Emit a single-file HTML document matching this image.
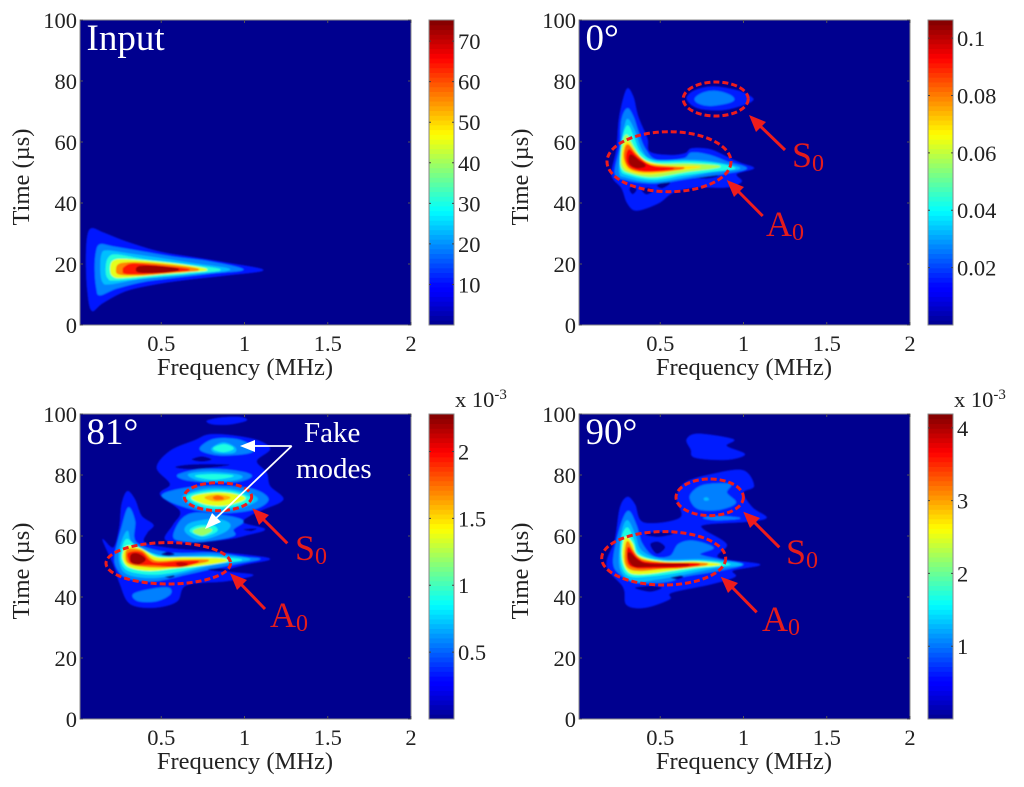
<!DOCTYPE html>
<html>
<head>
<meta charset="utf-8">
<title>Time-frequency panels</title>
<style>
html,body{margin:0;padding:0;background:#fff;width:1024px;height:787px;overflow:hidden}
svg{display:block;filter:blur(0.35px)}
text{font-family:"Liberation Serif",serif}
</style>
</head>
<body>
<svg id="figure" xmlns="http://www.w3.org/2000/svg" width="1024" height="787" viewBox="0 0 1024 787">
<defs>
<filter id="soft" x="-5%" y="-5%" width="110%" height="110%"><feGaussianBlur stdDeviation="0.7"/></filter>
</defs>
<g id="panels"></g>
<g id="annotations" font-size="36" fill="#e41c1c">
  <g>
    <ellipse cx="715.7" cy="99" rx="32.5" ry="17" fill="none" stroke="#ee1c1c" stroke-width="3" stroke-dasharray="6 3"/>
    <ellipse cx="669" cy="161.7" rx="62" ry="30" fill="none" stroke="#ee1c1c" stroke-width="3" stroke-dasharray="6 3"/>
    <path d="M785,150 L755,121" stroke="#ee1c1c" stroke-width="3"/><path d="M749,115 L766,122 L756,132 Z" fill="#ee1c1c"/>
    <path d="M762.7,216 L733,186" stroke="#ee1c1c" stroke-width="3"/><path d="M726.7,180 L744,187 L734,197 Z" fill="#ee1c1c"/>
    <text x="792" y="167">S<tspan font-size="24" dy="4">0</tspan></text>
    <text x="766" y="236">A<tspan font-size="24" dy="4">0</tspan></text>
  </g>
  <g>
    <ellipse cx="218" cy="496.7" rx="33.7" ry="14" fill="none" stroke="#ee1c1c" stroke-width="3" stroke-dasharray="6 3"/>
    <ellipse cx="168.3" cy="563.3" rx="62.3" ry="20.7" fill="none" stroke="#ee1c1c" stroke-width="3" stroke-dasharray="6 3"/>
    <path d="M287.3,543.3 L258,514" stroke="#ee1c1c" stroke-width="3"/><path d="M252.3,508.3 L269,515 L259,525 Z" fill="#ee1c1c"/>
    <path d="M265,609 L236,579" stroke="#ee1c1c" stroke-width="3"/><path d="M230,573.3 L247,580 L237,590 Z" fill="#ee1c1c"/>
    <text x="295" y="560">S<tspan font-size="24" dy="4">0</tspan></text>
    <text x="270" y="627">A<tspan font-size="24" dy="4">0</tspan></text>
    <path d="M291.7,446 L250,446" stroke="#fff" stroke-width="1.8"/><path d="M240,446 L255,440 L255,452 Z" fill="#fff"/>
    <path d="M291.7,446 L212,522" stroke="#fff" stroke-width="1.8"/><path d="M205,529 L212,513 L221,522 Z" fill="#fff"/>
    <text x="304" y="442" font-size="29" fill="#fff">Fake</text>
    <text x="296" y="478" font-size="29" fill="#fff">modes</text>
  </g>
  <g>
    <ellipse cx="709.7" cy="497.3" rx="33.7" ry="18.3" fill="none" stroke="#ee1c1c" stroke-width="3" stroke-dasharray="6 3"/>
    <ellipse cx="663.7" cy="558.3" rx="62" ry="26.7" fill="none" stroke="#ee1c1c" stroke-width="3" stroke-dasharray="6 3"/>
    <path d="M779.3,547.3 L749,517" stroke="#ee1c1c" stroke-width="3"/><path d="M743.3,511.7 L760,518 L750,528 Z" fill="#ee1c1c"/>
    <path d="M756.7,612.3 L727,582" stroke="#ee1c1c" stroke-width="3"/><path d="M720.7,576.7 L738,583 L728,593 Z" fill="#ee1c1c"/>
    <text x="786" y="564">S<tspan font-size="24" dy="4">0</tspan></text>
    <text x="762" y="631">A<tspan font-size="24" dy="4">0</tspan></text>
  </g>
</g>
</svg>
<script>
// Shared axis data
const xTickValues = [0.5, 1, 1.5, 2];
const xTickLabels = ['0.5', '1', '1.5', '2'];
const yTickValues = [0, 20, 40, 60, 80, 100];
const yTickLabels = ['0', '20', '40', '60', '80', '100'];

// Colorbar data
const inputBarTicks = [10, 20, 30, 40, 50, 60, 70];
const inputBarLabels = ['10', '20', '30', '40', '50', '60', '70'];
const deg0BarTicks = [0.02, 0.04, 0.06, 0.08, 0.1];
const deg0BarLabels = ['0.02', '0.04', '0.06', '0.08', '0.1'];
const deg81BarTicks = [0.5, 1, 1.5, 2];
const deg81BarLabels = ['0.5', '1', '1.5', '2'];
const deg90BarTicks = [1, 2, 3, 4];
const deg90BarLabels = ['1', '2', '3', '4'];

// Filled contours: [level, [freq, time, freq, time, ...]], painted in order.
const inputContours = [
[11,[1.113,18,.893,20.4,.693,22.2,.493,24,.292,27.3,.152,30.3,.082,31.7,.056,29,.048,21.3,.056,11.5,.082,4.7,.152,7.3,.292,11.2,.493,13.6,.693,15.1,.893,16.3]],
[19,[.993,18.2,.793,20.8,.593,22.2,.393,24,.212,25.7,.132,26.4,.108,23.5,.102,18,.112,12,.132,9.8,.232,12,.393,14.2,.593,15.6,.793,16.9]],
[23.5,[.913,18.2,.693,20.2,.493,21.9,.292,23.5,.172,24.4,.142,23,.136,18,.148,14.2,.192,13.4,.393,15.3,.693,16.7]],
[31,[.853,18.2,.593,20.2,.393,21.5,.232,23,.182,21.9,.168,18,.182,15.3,.232,14.7,.493,16,.693,17]],
[45,[.773,18.2,.593,19.9,.393,21,.262,21.5,.208,20.8,.196,18,.212,16,.272,15.6,.493,16.7,.653,17.4]],
[56,[.723,18.2,.533,19.7,.352,20.4,.252,20,.232,18.2,.252,16.7,.393,16.5,.593,17.4]],
[64,[.663,18.2,.493,19.3,.332,20,.282,19,.272,18,.292,16.9,.453,17,.593,17.6]],
[73,[.603,18.2,.473,19.1,.372,19.1,.352,18.2,.372,17.4,.493,17.4]]
];
const deg0Contours = [
[.016,[.298,77.3,.338,74.9,.368,68.3,.422,61.2,.438,56.8,.559,55.7,.649,56.3,.689,57.9,.799,57.6,.899,55.2,.979,53.2,1.063,51.4,.959,49.5,.989,47,.899,45.1,.719,45.1,.579,43.4,.489,39.9,.358,37.5,.302,39.9,.268,44.8,.208,49.2,.238,57.9,.254,68.3]],
[0,[.314,44.5,.338,45.6,.358,44.3,.334,42.9]],
[0,[.388,44.3,.428,45,.458,44,.418,42.8]],
[0,[.482,45.9,.549,47.3,.555,46.2,.509,44.8]],
[0,[.695,48.6,.779,49.5,.849,48.9,.779,48]],
[.0265,[.302,71,.338,68.3,.368,63.4,.408,57.9,.478,54.1,.639,54.6,.689,56.5,.799,55.7,.899,53.6,1.019,51.4,.899,49.7,.679,48.1,.559,47,.44,46.5,.298,47.5,.228,49.7,.258,58.5,.268,67.2]],
[.033,[.308,67.4,.348,63.4,.388,57.4,.458,54.1,.659,54.1,.799,53.6,.979,51.4,.799,50,.639,48.4,.458,47,.298,48.4,.254,50.3,.268,59.6,.288,65.6]],
[.043,[.302,65.3,.338,61.8,.378,56.8,.468,53.6,.659,53.6,.819,53,.949,51.4,.819,50.5,.639,49.2,.458,47.8,.308,49.2,.262,51.4,.268,59.6]],
[.058,[.298,62.3,.338,58.5,.398,54.1,.498,52.8,.679,52.8,.859,51.9,.659,50.3,.458,48.6,.328,49.7,.268,51.9,.272,58.5]],
[.069,[.302,60.1,.348,56.8,.418,53.6,.539,52.1,.739,51.9,.579,50.6,.44,49.5,.328,50.3,.278,52.5,.278,57.4]],
[.083,[.308,59,.358,55.7,.438,52.5,.579,51.7,.639,51.4,.519,50.5,.398,50.3,.318,51.4,.288,54.1,.288,57.4]],
[.093,[.314,57.4,.368,54.6,.458,51.9,.579,51.3,.458,50.6,.378,50.8,.318,52.1,.298,54.6]],
[.103,[.322,55.7,.368,53.9,.408,52.2,.358,51.7,.318,53]],
[.016,[.659,74.6,.709,77,.819,78.2,.959,77,1.029,75.4,1.059,73.8,.999,72.1,.879,70.5,.759,70.7,.689,72.1]],
[.0265,[.709,74.3,.759,76.2,.839,76.7,.919,75.4,.943,73.8,.899,72.7,.799,71.9,.729,72.7]]
];
const deg81Contours = [
[.34,[.296,74.7,.342,72,.382,66.6,.453,63.6,.416,61.1,.402,57.8,.553,56,.753,55.1,1.013,53.8,1.153,52.4,.993,50.5,.893,48.5,1.053,47.2,.893,45.2,.653,43.9,.593,38.5,.453,36.5,.312,37.8,.252,44.2,.212,50.7,.148,58.9,.212,56.2,.248,62.7,.262,70.4]],
[.34,[.773,97.7,.853,98.8,.973,99,1.013,97.9,.913,96.6,.813,96.6]],
[.34,[.703,91.4,.793,93.3,.953,92.8,1.093,91.1,1.153,88.4,1.073,84.6,1.133,80.8,1.153,76.4,1.233,72,1.113,68.7,1.043,67,.993,64.4,1.123,62.2,1.013,60.3,.893,58.9,.653,57.8,.523,58.9,.573,63.8,.613,68.2,.493,73.6,.553,77,.473,82.4,.553,87.9]],
[0,[.683,85.1,.743,86.1,.803,85.1,.743,84.4]],
[0,[.583,82.6,.693,83.5,.913,83.3,.693,81.9]],
[0,[.993,62.2,1.073,62.5,1.04,61.6]],
[.57,[.302,69.3,.342,64.9,.352,57.8,.553,54.5,.813,54.5,.993,53.1,1.093,52.4,.953,50.9,.813,49.4,.653,47.4,.453,45.2,.292,46.3,.232,49.6,.222,54,.262,62.7]],
[.57,[.332,40.9,.433,42.5,.543,43,.553,40.9,.473,38.7,.362,38.7]],
[.57,[.733,88.4,.813,91.7,.953,91.7,1.043,89.5,1.033,87.3,.853,86.5]],
[.57,[.603,80.2,.753,81.9,.953,81.3,1.043,79.7,.953,77.8,.753,77.8,.633,78.6]],
[.57,[.503,73.1,.633,75.6,.853,76.4,1.053,75.3,1.143,72,1.053,68.7,.853,67.6,.653,69.3]],
[.57,[.573,60,.623,65.5,.713,67.6,.893,66.6,.993,64.9,.933,62.2,.933,60,.753,58.1,.623,58.4]],
[0,[.5,54,.54,54.8,.58,54,.54,53.4]],
[0,[.52,46.8,.55,47.6,.58,46.8,.55,46.2]],
[0,[.78,49,.85,49.4,.91,48.8,.85,48.4]],
[.71,[.296,61.6,.332,57.3,.513,53.4,.793,53.7,1.033,52.4,.813,50.5,.633,48,.453,46.3,.302,47.4,.252,50.7,.252,56.2]],
[.71,[.803,88.7,.873,90.6,.943,89,.933,87.3,.833,87.3]],
[.71,[.663,80.2,.793,81,.953,80.2,.983,79.1,.893,78,.733,78.2]],
[.71,[.633,73.1,.753,75.3,.913,75.3,1.043,73.6,1.073,71.5,.953,69,.793,68.4,.673,70.4]],
[.71,[.643,61.6,.683,64.4,.833,65.5,.913,63.8,.873,61.1,.733,58.9]],
[.92,[.292,58.9,.352,56.7,.513,53.1,.813,53.1,.983,52.1,.793,50.9,.613,48.5,.453,47.4,.312,48.5,.262,51.2,.262,55.1]],
[.92,[.813,88.7,.877,90,.933,88.7,.873,87.6]],
[.92,[.703,79.7,.813,80.2,.933,79.7,.813,78.6]],
[.92,[.653,72.8,.773,74.7,.913,74.7,1.013,73.1,1.043,71.5,.913,69.5,.773,69.3]],
[.92,[.673,61.6,.723,63.3,.813,63.3,.833,61.6,.753,60]],
[1.2,[.693,61.6,.753,62.7,.803,61.9,.743,60.3]],
[1.37,[.683,72.6,.793,74,.913,73.9,1.003,72.3,.893,70.2,.773,70.4]],
[1.6,[.763,72.6,.833,73.4,.913,72.6,.833,71.5]],
[1.78,[.813,72.6,.843,73.1,.873,72.3,.833,72]],
[1.37,[.302,56.7,.382,55.6,.473,52.9,.633,52.9,.833,52.7,.893,51.8,.753,50.5,.593,49.6,.433,48.7,.312,49.8,.272,52.3,.276,55.1]],
[1.71,[.302,55.6,.382,55.1,.462,51.8,.613,52,.783,52,.653,50.5,.513,49.8,.372,50.2,.302,51.2,.288,53.4]],
[1.94,[.308,54.5,.382,54.5,.453,51.2,.613,51.6,.723,51.6,.613,50,.473,50.5,.332,51,.302,52.9]],
[2.21,[.322,53.8,.362,54,.402,52.3,.362,50.9,.322,51.6]],
[2.12,[.593,50.9,.623,51.2,.657,50.7,.623,50.2]]
];
const deg90Contours = [
[.63,[.302,72.8,.348,70.4,.402,64.4,.619,66,.599,72.6,.649,77.5,.819,80.4,.999,81.5,1.063,76.4,.999,74.2,1.055,69.3,1.139,66,1.019,64.7,.779,63.8,.759,62.2,.899,57.3,.849,52.9,1.099,50.7,.939,48.7,.949,46.6,.799,44.1,.569,41.4,.555,39.2,.408,36.5,.298,37.4,.278,43.1,.178,50.2,.228,58.9,.258,69.3]],
[.63,[.659,91.7,.729,93.5,.939,91.7,.899,89.5,1.009,86.8,.899,85,.709,85.7,.683,88.4]],
[0,[.44,57.3,.489,58.1,.529,56.2,.479,54.2]],
[0,[.408,60.5,.479,61.4,.579,60.8,.489,59.7]],
[0,[.348,43,.439,43.6,.509,43,.439,41.7]],
[1.05,[.308,68.2,.358,63.3,.388,57.8,.458,53.4,.559,53.4,.609,57.3,.699,58.4,.819,56.2,.739,54,.859,52.3,.999,50.7,.859,48.7,.659,46.9,.539,45,.358,44.7,.258,47.4,.218,51.8,.258,62.7]],
[1.05,[.683,73.7,.759,76.7,.919,77,.899,74.2,.953,70.9,.859,68.7,.739,68.7,.689,70.9]],
[1.05,[.759,66,.859,66.5,.979,65.8,.839,65.2]],
[0,[.559,46.6,.599,47.4,.639,46.6,.599,45.8]],
[1.3,[.763,72.3,.779,72.6,.791,71.9,.769,71.7]],
[1.3,[.302,65.1,.348,60.5,.388,55.1,.519,52.3,.759,52.3,.989,50.7,.819,49.4,.639,47.4,.479,45.8,.338,45.2,.258,49.6,.268,60.5]],
[1.7,[.302,62.7,.338,58.9,.378,54,.519,51.8,.759,51.8,.919,50.7,.759,49.6,.599,48,.439,46.9,.318,46.9,.268,50.7,.268,58.9]],
[2.51,[.298,59.7,.334,57.3,.368,53.4,.519,51.5,.719,51.5,.859,50.6,.699,49.8,.559,48.7,.418,47.6,.318,48,.278,51.8,.278,57.3]],
[3.14,[.302,58.1,.338,55,.388,52.3,.519,51.2,.779,50.9,.659,49.8,.519,49.4,.378,48.7,.308,49.6,.288,52.9]],
[3.69,[.308,56.2,.358,52.9,.439,51.2,.729,50.9,.619,49.8,.459,49.6,.358,49.6,.308,51.2]],
[4.06,[.314,54.5,.368,51.8,.439,50.7,.669,50.6,.459,50.2,.348,50.2,.314,52.3]]
];

const FREQ_MIN = 0.012, FREQ_MAX = 2, TIME_MIN = 0, TIME_MAX = 100;
const PLOT_W = 331, PLOT_H = 305, BAR_W = 25, BAR_GAP = 18;
const SVG_NS = 'http://www.w3.org/2000/svg';
const panelRoot = document.getElementById('panels');

const panels = [
  {id:'input', title:'Input', left:80, top:20, max:75.2, contours:inputContours, ticks:inputBarTicks, labels:inputBarLabels},
  {id:'0deg', title:'0°', left:579, top:20, max:0.1063, contours:deg0Contours, ticks:deg0BarTicks, labels:deg0BarLabels},
  {id:'81deg', title:'81°', left:80, top:414, max:2.28, contours:deg81Contours, ticks:deg81BarTicks, labels:deg81BarLabels, exponent:true},
  {id:'90deg', title:'90°', left:579, top:414, max:4.19, contours:deg90Contours, ticks:deg90BarTicks, labels:deg90BarLabels, exponent:true}
];

function jet(v) {
  const c = x => Math.max(0, Math.min(1, x));
  const r = c(Math.min(4 * v - 1.5, -4 * v + 4.5));
  const g = c(Math.min(4 * v - 0.5, -4 * v + 3.5));
  const b = c(Math.min(4 * v + 0.56, -4 * v + 2.5));
  return 'rgb(' + Math.round(r * 255) + ',' + Math.round(g * 255) + ',' + Math.round(b * 255) + ')';
}
function make(tag, attrs, parent) {
  const el = document.createElementNS(SVG_NS, tag);
  for (const k in attrs) el.setAttribute(k, attrs[k]);
  parent.appendChild(el);
  return el;
}
function smoothClosedPath(points) {
  const n = points.length;
  let d = 'M' + points[0][0].toFixed(1) + ',' + points[0][1].toFixed(1);
  for (let i = 0; i < n; i++) {
    const p0 = points[(i - 1 + n) % n], p1 = points[i], p2 = points[(i + 1) % n], p3 = points[(i + 2) % n];
    const c1x = p1[0] + (p2[0] - p0[0]) / 6, c1y = p1[1] + (p2[1] - p0[1]) / 6;
    const c2x = p2[0] - (p3[0] - p1[0]) / 6, c2y = p2[1] - (p3[1] - p1[1]) / 6;
    d += 'C' + c1x.toFixed(1) + ',' + c1y.toFixed(1) + ' ' + c2x.toFixed(1) + ',' + c2y.toFixed(1) + ' ' + p2[0].toFixed(1) + ',' + p2[1].toFixed(1);
  }
  return d + 'Z';
}

panels.forEach(function (p) {
  const xOf = f => p.left + (f - FREQ_MIN) / (FREQ_MAX - FREQ_MIN) * PLOT_W;
  const yOf = t => p.top + PLOT_H - (t - TIME_MIN) / (TIME_MAX - TIME_MIN) * PLOT_H;
  const g = make('g', {}, panelRoot);
  
  

  const clipId = 'clip-' + p.id;
  const clip = make('clipPath', {id: clipId}, g);
  make('rect', {x: p.left, y: p.top, width: PLOT_W, height: PLOT_H}, clip);

  const bg = make('rect', {x: p.left, y: p.top, width: PLOT_W, height: PLOT_H, fill: '#00008f'}, g);
  
  

  const heat = make('g', {'clip-path': 'url(#' + clipId + ')'}, g);
  
  
  const soft = make('g', {filter: 'url(#soft)'}, heat);
  p.contours.forEach(function (c) {
    const pts = [];
    for (let i = 0; i < c[1].length; i += 2) pts.push([xOf(c[1][i]), yOf(c[1][i + 1])]);
    const frac = c[0] / p.max;
    const col = c[0] === 0 ? '#00008f' : jet(frac);
    const band = make('path', {d: smoothClosedPath(pts), fill: col, stroke: col, 'stroke-linejoin': 'round', 'stroke-width': c[0] === 0 ? 0 : 0.2 + 1.5 * frac}, soft);
    
    
  });

  const frame = make('rect', {x: p.left, y: p.top, width: PLOT_W, height: PLOT_H, fill: 'none', stroke: '#8a8a8a', 'stroke-width': 1}, g);
  
  

  xTickValues.forEach(function (v, i) {
    const x = xOf(v);
    const tb = make('path', {d: 'M' + x + ',' + (p.top + PLOT_H) + 'v-3M' + x + ',' + p.top + 'v3', stroke: '#555', 'stroke-width': 1}, g);
    
    
    const lab = make('text', {x: x, y: p.top + PLOT_H + 26, 'font-size': 22.5, 'text-anchor': 'middle', fill: '#222'}, g);
    lab.textContent = xTickLabels[i];
    
    
  });
  yTickValues.forEach(function (v, i) {
    const y = yOf(v);
    const tk = make('path', {d: 'M' + p.left + ',' + y + 'h3M' + (p.left + PLOT_W) + ',' + y + 'h-3', stroke: '#555', 'stroke-width': 1}, g);
    
    
    const lab = make('text', {x: p.left - 3, y: y + 8, 'font-size': 22.5, 'text-anchor': 'end', fill: '#222'}, g);
    lab.textContent = yTickLabels[i];
    
    
  });

  const xt = make('text', {x: p.left + 165, y: p.top + PLOT_H + 50, 'font-size': 24.5, 'text-anchor': 'middle', fill: '#222'}, g);
  xt.textContent = 'Frequency (MHz)';
  
  

  const yx = p.left - 51, yy = p.top + 157;
  const yt = make('text', {x: yx, y: yy, 'font-size': 24.5, 'text-anchor': 'middle', fill: '#222', transform: 'rotate(-90 ' + yx + ' ' + yy + ')'}, g);
  yt.textContent = 'Time (µs)';
  
  

  const title = make('text', {x: p.left + 6.5, y: p.top + 30, 'font-size': 37, fill: '#fff'}, g);
  title.textContent = p.title;
  
  

  // colorbar
  const barX = p.left + PLOT_W + BAR_GAP;
  const barY = v => p.top + PLOT_H - v / p.max * PLOT_H;
  const bar = make('g', {}, g);
  
  
  const steps = 64;
  for (let i = 0; i < steps; i++) {
    const lo = p.max * i / steps, hi = p.max * (i + 1) / steps;
    const s = make('rect', {x: barX, y: barY(hi), width: BAR_W, height: barY(lo) - barY(hi) + 0.5, fill: jet((i + 0.5) / steps)}, bar);
    
    
  }
  const barFrame = make('rect', {x: barX, y: p.top, width: BAR_W, height: PLOT_H, fill: 'none', stroke: '#8a8a8a', 'stroke-width': 1}, bar);
  
  
  p.ticks.forEach(function (v, i) {
    const y = barY(v);
    const tk = make('path', {d: 'M' + barX + ',' + y + 'h2M' + (barX + BAR_W) + ',' + y + 'h-2', stroke: '#444', 'stroke-width': 1}, bar);
    
    
    const lab = make('text', {x: barX + BAR_W + 4, y: y + 8, 'font-size': 22.5, fill: '#222'}, bar);
    lab.textContent = p.labels[i];
    
    
  });
  if (p.exponent) {
    const ex = make('text', {x: barX + BAR_W + 1, y: p.top - 7, 'font-size': 22.5, fill: '#222'}, bar);
    ex.textContent = 'x 10';
    
    
    const sup = make('tspan', {'font-size': 15, dy: -8}, ex);
    sup.textContent = '-3';
  }
});
</script>
</body>
</html>
